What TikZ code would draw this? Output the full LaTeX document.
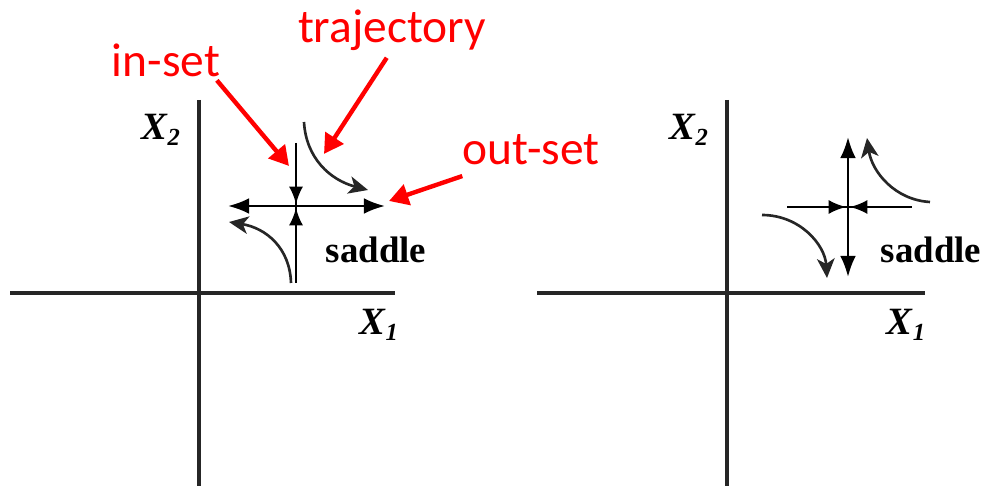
\documentclass[tikz,border=0pt]{standalone}
\usepackage{fontspec}
\setmainfont{Liberation Serif}
\newfontfamily\calfont{Carlito}
\usetikzlibrary{arrows.meta,positioning}
\tikzset{
  axis/.style     = {line width=2pt, black!85},
  flow/.style     = {line width=1.5pt},
  outtip/.style   = {-{Latex[length=12pt,width=9pt]}, line width=1.5pt},
  intip/.style    = {-{Latex[length=10pt,width=8pt]}, line width=1.5pt},
  traj/.style     = {-{Stealth[length=11pt,width=10pt,inset=3pt]}, line width=1.5pt, black!85},
  callout/.style  = {-{Triangle[length=11pt,width=12pt]}, line width=2.5pt, red},
  redlab/.style   = {text=red, font=\calfont\fontsize{27}{27}\selectfont, inner sep=0pt},
  axlab/.style    = {font=\fontsize{22}{22}\selectfont\bfseries\itshape, inner sep=0pt},
  sadlab/.style   = {font=\fontsize{21}{21}\selectfont\bfseries, inner sep=0pt},
}
\newcommand{\Xsub}[1]{X\raisebox{-0.35ex}{\fontsize{14}{14}\selectfont #1}}

\begin{document}
\begin{tikzpicture}[x=0.02cm, y=-0.02cm]
\useasboundingbox (0,0) rectangle (984,486);
% ---- left panel: in-set vertical, out-set horizontal ----
\coordinate (ya) at (199,100);
\coordinate (yb) at (199,486);
\coordinate (xa) at (10,293);
\coordinate (xb) at (395,293);
\draw[axis] (ya) -- (yb);
\draw[axis] (xa) -- (xb);
\node[axlab] (xtwo) at (161,130) {\Xsub{2}};
\node[axlab] (xone) at (379,325) {\Xsub{1}};

\coordinate (s1) at (296,206);
\coordinate (s1top) at (296,143);
\coordinate (s1bot) at (296,283);
\coordinate (s1left) at (228,206);
\coordinate (s1right) at (385,206);
\draw[flow] (s1top) -- (s1bot);
\draw[intip] (296,186) -- ([yshift=1pt]s1);
\draw[intip] (296,226) -- ([yshift=-1pt]s1);
\draw[outtip] (s1) -- (s1left);
\draw[outtip] (s1) -- (s1right);
\draw[traj] (304,122) .. controls (306,158) and (330,180) .. (368,190);
\draw[traj] (291,283) .. controls (290,248) and (266,228) .. (229,222);
\node[sadlab] (sad1) at (376,250) {saddle};

% ---- red labels ----
\node[redlab] (inset) at (166,60) {in-set};
\node[redlab] (trajlab) at (392,30) {trajectory};
\node[redlab] (outset) at (531,150) {out-set};
\coordinate (inset tip) at (289,166);
\coordinate (traj tip) at (324,154);
\coordinate (outset tip) at (389,201);
\draw[callout] ([xshift=-2pt,yshift=-2pt]inset.south east) -- (inset tip);
\draw[callout] ([xshift=-3pt,yshift=-4pt]trajlab.south) -- (traj tip);
\draw[callout] ([yshift=-6pt]outset.south west) -- (outset tip);

% ---- right panel: out-set vertical, in-set horizontal ----
\coordinate (ya2) at (727,100);
\coordinate (yb2) at (727,486);
\coordinate (xa2) at (537,293);
\coordinate (xb2) at (925,293);
\draw[axis] (ya2) -- (yb2);
\draw[axis] (xa2) -- (xb2);
\node[axlab] (xtwo2) at (689,130) {\Xsub{2}};
\node[axlab] (xone2) at (906,325) {\Xsub{1}};

\coordinate (s2) at (848,207);
\coordinate (s2top) at (848,137);
\coordinate (s2bot) at (848,277);
\coordinate (s2left) at (787,207);
\coordinate (s2right) at (912,207);
\draw[flow] (s2left) -- (s2right);
\draw[intip] (828,207) -- ([xshift=-1pt]s2);
\draw[intip] (868,207) -- ([xshift=1pt]s2);
\draw[outtip] (s2) -- (s2top);
\draw[outtip] (s2) -- (s2bot);
\draw[traj] (930,202) .. controls (895,200) and (872,172) .. (867,138);
\draw[traj] (762,215) .. controls (800,215) and (825,245) .. (827,278);
\node[sadlab] (sad2) at (931,250) {saddle};
\end{tikzpicture}
\end{document}
